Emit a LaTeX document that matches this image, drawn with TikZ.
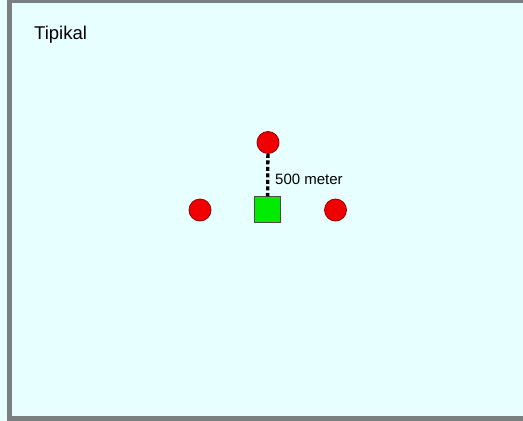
\documentclass[tikz,border=0pt]{standalone}
\usepackage{fontspec}
\setmainfont{Liberation Sans}
\usetikzlibrary{positioning}

\definecolor{skyfill}{RGB}{232,255,255}
\definecolor{framegray}{RGB}{122,128,128}
\definecolor{dotred}{RGB}{240,0,0}
\definecolor{dotedge}{RGB}{150,0,0}
\definecolor{basegreen}{RGB}{0,235,0}

\begin{document}
\begin{tikzpicture}
          [
            x=1pt, y=-1pt,
            label/.style={anchor=base west, inner sep=0pt},
            reddot/.style={circle, draw=dotedge, line width=0.8pt, fill=dotred,
                           minimum size=22pt, inner sep=0pt},
            basebox/.style={rectangle, draw=black!70, line width=0.6pt, fill=basegreen,
                            minimum size=26pt, inner sep=0pt},
            gap/.style={line width=3.3pt, dash pattern=on 4pt off 2.5pt}
          ]
          \useasboundingbox (0,0) rectangle (523,421);
          \clip (0,0) rectangle (523,421);
          % background and frame
          \fill[skyfill] (0,0) rectangle (523,421);
          \draw[framegray, line width=4.5pt] (9.4,1) rectangle (532,418.6);
          % title
          \node [label] (title) at (34,39) {\fontsize{18.5}{21}\selectfont Tipikal};
          % stations
          \node [reddot] (top) at (268,142.5) {};
          \node [reddot] (left) at (200,210) {};
          \node [reddot] (right) at (335.5,210) {};
          \node [basebox] (base) at (267.5,209.7) {};
          % distance
          \draw [gap] (top) -- (base);
          \node [label] (dist) at (275,184) {\fontsize{15}{17}\selectfont 500 meter};
        \end{tikzpicture}
\end{document}
